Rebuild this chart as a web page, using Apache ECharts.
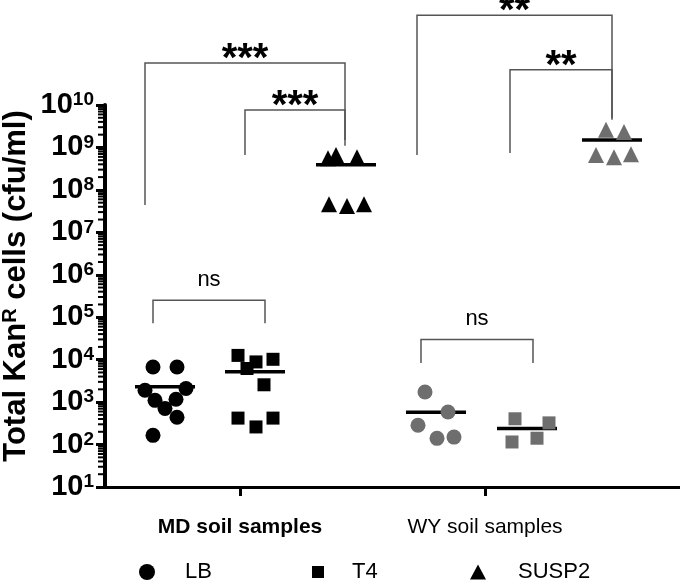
<!DOCTYPE html>
<html><head><meta charset="utf-8">
<script src="https://cdn.jsdelivr.net/npm/echarts@6/dist/echarts.min.js"></script>
<style>html,body{margin:0;padding:0;background:#fff}#c{width:680px;height:585px}</style>
</head><body><div id="c"></div>
<script>
// ---- data ----
const groupNames = ['MD soil samples', 'WY soil samples'];
const groupTickX = [135, 380];
const mediaNames = ['LB', 'T4', 'SUSP2'];
const yTickExponents = [1,2,3,4,5,6,7,8,9,10];

// x = horizontal position along the (unitless) x scale, v = cfu/ml
const mdLB_x = [48, 72, 40, 81, 50, 71, 60, 72, 48];
const mdLB_v = [6700, 6700, 1900, 2100, 1100, 1170, 710, 440, 165];
const mdT4_x = [133, 151, 168, 142, 159, 133, 168, 151];
const mdT4_v = [12600, 8850, 10200, 6200, 2560, 420, 420, 260];
const mdSUSP2_x = [223, 231, 252, 224, 242, 259];
const mdSUSP2_v = [5.6e8, 6.6e8, 5.9e8, 4.6e7, 4.2e7, 4.6e7];
const wyLB_x = [320, 343, 313, 332, 349];
const wyLB_v = [1730, 585, 284, 140, 150];
const wyT4_x = [410, 444, 432, 407];
const wyT4_v = [405, 324, 141, 115];
const wySUSP2_x = [501, 519, 491, 509, 526];
const wySUSP2_v = [2.6e9, 2.3e9, 6.6e8, 5.9e8, 6.9e8];

// mean lines
const meanX = [60, 150, 241, 331, 422, 507];
const meanV = [2300, 5200, 3.9e8, 580, 240, 1.5e9];

// significance brackets
const brLeft = [40, 140, 48, 312, 405, 316];
const brRight = [240, 240, 160, 507, 507, 428];
const brTop = [9.8e10, 7.6e9, 2.5e5, 1.3e12, 6.8e10, 3.0e4];
const brLeftEnd = [4.4e7, 6.6e8, 7.2e4, 6.6e8, 7.4e8, 8.3e3];
const brRightEnd = [1.1e9, 1.5e9, 7.2e4, 4.5e9, 4.9e9, 8.3e3];
const brLabel = ['***', '***', 'ns', '**', '**', 'ns'];

// ---- chart ----
const FONT = "'Liberation Sans', Arial, sans-serif";
const BLACK = '#000000', GREY = '#6e6e6e';
const zip = (xs, vs) => xs.map((x, i) => [x, vs[i]]);

// minor tick values (2..9 x 10^e)
const minorVals = [];
for (let e = 1; e < 10; e++) for (let m = 2; m <= 9; m++) minorVals.push(m * Math.pow(10, e));

const chart = echarts.init(document.getElementById('c'), null, {renderer: 'canvas'});

function scatter(name, xs, vs, symbol, size, color) {
  return {type: 'scatter', name, data: zip(xs, vs), symbol, symbolSize: size,
    itemStyle: {color, opacity: 1}, z: 5, xAxisIndex: 0, yAxisIndex: 0, silent: true};
}

const option = {
  animation: false,
  backgroundColor: '#fff',
  grid: {left: 105, right: 0, top: 105, bottom: 98, containLabel: false},
  xAxis: {
    type: 'value', min: 0, max: 575,
    axisLine: {show: true, onZero: false, lineStyle: {color: BLACK, width: 3}},
    axisTick: {show: true, customValues: groupTickX, length: 9, lineStyle: {color: BLACK, width: 3}},
    axisLabel: {show: true, customValues: groupTickX, margin: 30,
      formatter: v => (v === groupTickX[0] ? '{b|' + groupNames[0] + '}' : '{n|' + groupNames[1] + '}'),
      rich: {
        b: {fontFamily: FONT, fontSize: 21, fontWeight: 'bold', color: BLACK},
        n: {fontFamily: FONT, fontSize: 21, color: BLACK}
      }},
    splitLine: {show: false}
  },
  yAxis: {
    type: 'log', logBase: 10, min: 10, max: 1e10,
    axisLine: {show: true, onZero: false, lineStyle: {color: BLACK, width: 4}},
    axisTick: {show: true, length: 9, lineStyle: {color: BLACK, width: 3}},
    axisLabel: {show: true, margin: 11,
      formatter: v => '{b|10}{s|' + Math.round(Math.log10(v)) + '}',
      rich: {
        b: {fontFamily: FONT, fontSize: 29, fontWeight: 'bold', color: BLACK, lineHeight: 29},
        s: {fontFamily: FONT, fontSize: 19, fontWeight: 'bold', color: BLACK, lineHeight: 19, verticalAlign: 'top'}
      }},
    splitLine: {show: false}
  },
  legend: [
    {data: [{name: 'LB', icon: 'circle'}], left: 134, top: 556, itemWidth: 16, itemHeight: 16,
      textStyle: {fontFamily: FONT, fontSize: 22, color: BLACK, padding: [0, 0, 0, 25]}, selectedMode: false},
    {data: [{name: 'T4', icon: 'rect'}], left: 307, top: 556, itemWidth: 12, itemHeight: 12,
      textStyle: {fontFamily: FONT, fontSize: 22, color: BLACK, padding: [0, 0, 0, 23]}, selectedMode: false},
    {data: [{name: 'SUSP2', icon: 'triangle'}], left: 465, top: 556, itemWidth: 16, itemHeight: 15,
      textStyle: {fontFamily: FONT, fontSize: 22, color: BLACK, padding: [0, 0, 0, 27]}, selectedMode: false}
  ],
  graphic: [{
    type: 'text', x: 16, y: 286, rotation: Math.PI / 2,
    style: {
      text: '{t|Total Kan}{s|R}{t| cells (cfu/ml)}',
      align: 'center', verticalAlign: 'middle',
      rich: {
        t: {fontFamily: FONT, fontSize: 31, fontWeight: 'bold', fill: BLACK, lineHeight: 32},
        s: {fontFamily: FONT, fontSize: 20, fontWeight: 'bold', fill: BLACK, lineHeight: 20, verticalAlign: 'top'}
      }
    }
  }],
  series: [
    {
      type: 'custom', name: 'minorTicks', silent: true, z: 10, clip: false,
      data: minorVals.map(v => [0, v]),
      renderItem: (params, api) => {
        const p = api.coord([api.value(0), api.value(1)]);
        return {type: 'rect', shape: {x: p[0] - 7, y: p[1] - 1, width: 8, height: 2},
          style: {fill: BLACK}};
      }
    },
    {
      type: 'custom', name: 'means', silent: true, z: 3,
      data: meanX.map((x, i) => [x, meanV[i]]),
      renderItem: (params, api) => {
        const p = api.coord([api.value(0), api.value(1)]);
        return {type: 'rect', shape: {x: p[0] - 30, y: p[1] - 1.75, width: 60, height: 3.5},
          style: {fill: BLACK}};
      }
    },
    {
      type: 'custom', name: 'brackets', silent: true, z: 2, clip: false,
      data: brLeft.map((x, i) => [x, brRight[i], brTop[i], brLeftEnd[i], brRightEnd[i], i]),
      renderItem: (params, api) => {
        const i = api.value(5);
        const pl = api.coord([api.value(0), api.value(2)]);
        const pr = api.coord([api.value(1), api.value(2)]);
        const le = api.coord([api.value(0), api.value(3)]);
        const re = api.coord([api.value(1), api.value(4)]);
        const lab = brLabel[i];
        const isStar = lab.indexOf('*') >= 0;
        return {type: 'group', children: [
          {type: 'polyline', shape: {points: [[le[0], le[1]], [pl[0], pl[1]], [pr[0], pr[1]], [re[0], re[1]]]},
            style: {stroke: '#555', lineWidth: 1.5, fill: null}},
          {type: 'text', x: (pl[0] + pr[0]) / 2, y: isStar ? pl[1] - 3 : pl[1] - 20,
            style: {text: lab, align: 'center', verticalAlign: 'middle', fill: BLACK,
              font: (isStar ? 'bold 40px ' : '22px ') + FONT}}
        ]};
      }
    },
    scatter('LB', mdLB_x, mdLB_v, 'circle', 15, BLACK),
    scatter('T4', mdT4_x, mdT4_v, 'rect', 13, BLACK),
    scatter('SUSP2', mdSUSP2_x, mdSUSP2_v, 'triangle', 16, BLACK),
    scatter('LB', wyLB_x, wyLB_v, 'circle', 15, GREY),
    scatter('T4', wyT4_x, wyT4_v, 'rect', 13, GREY),
    scatter('SUSP2', wySUSP2_x, wySUSP2_v, 'triangle', 16, GREY)
  ]
};
chart.setOption(option);
</script>
</body></html>
